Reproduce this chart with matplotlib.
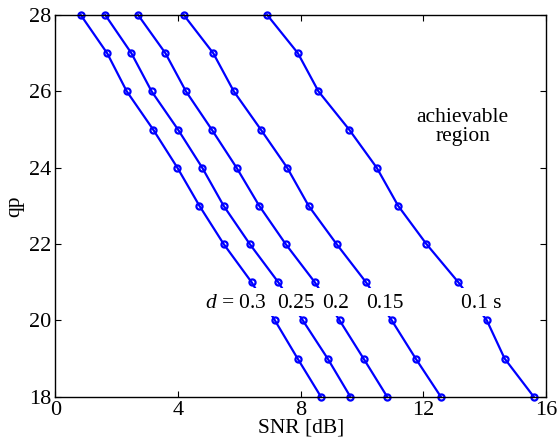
import matplotlib
matplotlib.use("Agg")
import matplotlib.pyplot as plt

plt.rcParams["font.family"] = ["Liberation Serif", "DejaVu Serif"]
plt.rcParams["mathtext.fontset"] = "custom"
plt.rcParams["mathtext.it"] = "Liberation Serif:italic"
plt.rcParams["mathtext.rm"] = "Liberation Serif"

qp = [28, 27, 26, 25, 24, 23, 22, 21, 20, 19, 18]

snr_d030 = [0.83, 1.69, 2.33, 3.19, 3.98, 4.70, 5.49, 6.40, 7.16, 7.90, 8.66]
snr_d025 = [1.63, 2.48, 3.14, 4.00, 4.79, 5.49, 6.34, 7.27, 8.07, 8.88, 9.62]
snr_d020 = [2.70, 3.59, 4.26, 5.10, 5.91, 6.65, 7.51, 8.46, 9.27, 10.05, 10.82]
snr_d015 = [4.19, 5.15, 5.82, 6.70, 7.56, 8.26, 9.17, 10.13, 10.97, 11.75, 12.57]
snr_d010 = [6.91, 7.91, 8.58, 9.58, 10.48, 11.18, 12.10, 13.14, 14.07, 14.65, 15.60]

curves = [snr_d030, snr_d025, snr_d020, snr_d015, snr_d010]
d_labels = [r"$d$ = 0.3", "0.25", "0.2", "0.15", "0.1 s"]
label_x = [4.89, 7.23, 8.71, 10.12, 13.24]

FS = 15.5

fig = plt.figure(figsize=(5.58, 4.42), dpi=100)
ax = fig.add_axes([55.3 / 558, 1 - 396.7 / 442, (546 - 55.3) / 558, (396.7 - 15) / 442])

for snr in curves:
    ax.plot(snr, qp, color="#0000ff", linewidth=1.6, marker="o", markersize=4.4,
            markerfacecolor="none", markeredgewidth=1.6, clip_on=False, zorder=2)

# white band where the d labels sit, hides the joins between qp 21 and 20
ax.axhspan(20.12, 20.86, color="white", zorder=2.2, linewidth=0)

for x, s in zip(label_x, d_labels):
    ax.text(x, 20.32, s, fontsize=FS, ha="left", va="baseline", zorder=3)

ax.text(13.28, 25.07, "achievable\nregion", fontsize=FS, ha="center", va="center",
        multialignment="center", linespacing=1.0)

ax.set_xlim(0, 16)
ax.set_ylim(18, 28)
ax.set_xticks([0, 4, 8, 12, 16])
ax.set_yticks([18, 20, 22, 24, 26, 28])
ax.tick_params(direction="in", length=4, width=0.8, top=True, right=True,
               labelsize=16, pad=3)
for sp in ax.spines.values():
    sp.set_linewidth(1.0)

ax.set_xlabel("SNR [dB]", fontsize=FS, labelpad=-1)
ax.set_ylabel("qp", fontsize=FS, labelpad=3)

fig.savefig("out.png", dpi=100, facecolor="white")
